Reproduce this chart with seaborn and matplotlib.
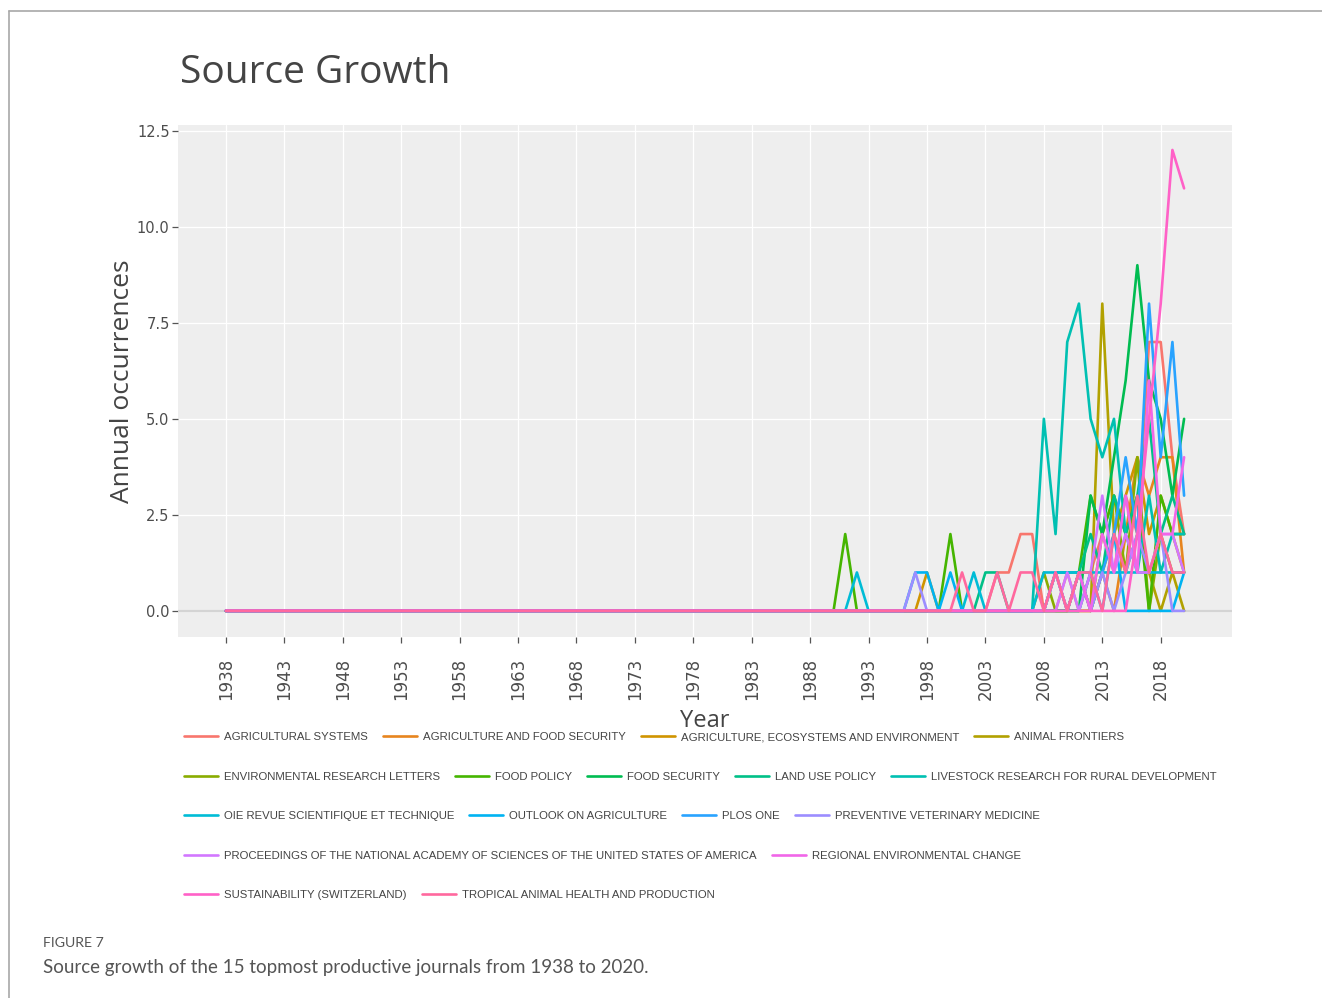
import numpy as np
import pandas as pd
import matplotlib
matplotlib.use("Agg")
import matplotlib.pyplot as plt
from matplotlib.lines import Line2D
import seaborn as sns

# ---------------------------------------------------------------- data
FIRST_YEAR, LAST_YEAR = 1938, 2020
ACTIVE_FROM = 1988          # no journal has any document before this year

JOURNALS = [
    "AGRICULTURAL SYSTEMS",
    "AGRICULTURE AND FOOD SECURITY",
    "AGRICULTURE, ECOSYSTEMS AND ENVIRONMENT",
    "ANIMAL FRONTIERS",
    "ENVIRONMENTAL RESEARCH LETTERS",
    "FOOD POLICY",
    "FOOD SECURITY",
    "LAND USE POLICY",
    "LIVESTOCK RESEARCH FOR RURAL DEVELOPMENT",
    "OIE REVUE SCIENTIFIQUE ET TECHNIQUE",
    "OUTLOOK ON AGRICULTURE",
    "PLOS ONE",
    "PREVENTIVE VETERINARY MEDICINE",
    "PROCEEDINGS OF THE NATIONAL ACADEMY OF SCIENCES OF THE UNITED STATES OF AMERICA",
    "REGIONAL ENVIRONMENTAL CHANGE",
    "SUSTAINABILITY (SWITZERLAND)",
    "TROPICAL ANIMAL HEALTH AND PRODUCTION",
]

# annual documents, 1988-2020 (rows: 1988-1997 | 1998-2007 | 2008-2020)
agricultural_systems = [0, 0, 0, 0, 0, 0, 0, 0, 0, 0,
                        0, 0, 0, 0, 0, 0, 1, 1, 2, 2,
                        0, 0, 1, 0, 1, 2, 1, 3, 2, 7, 7, 4, 2]
agriculture_food_security = [0, 0, 0, 0, 0, 0, 0, 0, 0, 0,
                             0, 0, 0, 0, 0, 0, 0, 0, 0, 0,
                             0, 0, 0, 0, 0, 1, 0, 2, 4, 3, 4, 4, 1]
agriculture_ecosystems_env = [0, 0, 0, 0, 0, 0, 0, 0, 0, 0,
                              1, 0, 0, 0, 0, 0, 0, 0, 0, 0,
                              0, 0, 0, 1, 0, 1, 2, 3, 4, 2, 3, 2, 1]
animal_frontiers = [0, 0, 0, 0, 0, 0, 0, 0, 0, 0,
                    0, 0, 0, 0, 0, 0, 0, 0, 0, 0,
                    0, 0, 0, 0, 0, 8, 2, 1, 2, 1, 0, 1, 0]
environmental_research_letters = [0, 0, 0, 0, 0, 0, 0, 0, 0, 0,
                                  0, 0, 0, 0, 0, 0, 0, 0, 0, 0,
                                  1, 0, 0, 1, 0, 2, 3, 1, 4, 0, 2, 1, 1]
food_policy = [0, 0, 0, 2, 0, 0, 0, 0, 0, 0,
               0, 0, 2, 0, 0, 0, 0, 0, 0, 0,
               0, 1, 0, 1, 3, 2, 3, 2, 3, 0, 3, 2, 2]
food_security = [0, 0, 0, 0, 0, 0, 0, 0, 0, 0,
                 0, 0, 0, 0, 0, 0, 0, 0, 0, 0,
                 0, 0, 0, 0, 3, 2, 4, 6, 9, 6, 5, 3, 5]
land_use_policy = [0, 0, 0, 0, 0, 0, 0, 0, 0, 0,
                   0, 0, 0, 0, 0, 1, 1, 0, 0, 0,
                   0, 1, 1, 1, 2, 1, 3, 2, 3, 5, 2, 3, 2]
livestock_research = [0, 0, 0, 0, 0, 0, 0, 0, 0, 0,
                      0, 0, 0, 0, 0, 0, 0, 0, 0, 0,
                      5, 2, 7, 8, 5, 4, 5, 2, 1, 3, 1, 2, 2]
oie_revue = [0, 0, 0, 0, 1, 0, 0, 0, 0, 0,
             0, 0, 0, 0, 1, 0, 0, 0, 0, 0,
             1, 1, 1, 1, 1, 1, 1, 1, 1, 1, 1, 1, 1]
outlook_on_agriculture = [0, 0, 0, 0, 0, 0, 0, 0, 0, 1,
                          1, 0, 1, 0, 0, 0, 0, 0, 0, 0,
                          0, 1, 0, 0, 1, 0, 2, 0, 0, 0, 0, 0, 1]
plos_one = [0, 0, 0, 0, 0, 0, 0, 0, 0, 0,
            0, 0, 0, 0, 0, 0, 0, 0, 0, 0,
            0, 0, 0, 1, 0, 1, 2, 4, 2, 8, 4, 7, 3]
preventive_vet_medicine = [0, 0, 0, 0, 0, 0, 0, 0, 0, 1,
                           0, 0, 0, 0, 0, 0, 0, 0, 0, 0,
                           0, 1, 0, 1, 0, 1, 0, 1, 2, 1, 2, 0, 0]
pnas = [0, 0, 0, 0, 0, 0, 0, 0, 0, 0,
        0, 0, 0, 0, 0, 0, 0, 0, 0, 0,
        0, 0, 1, 0, 1, 3, 1, 2, 1, 1, 2, 2, 1]
regional_env_change = [0, 0, 0, 0, 0, 0, 0, 0, 0, 0,
                       0, 0, 0, 0, 0, 0, 0, 0, 0, 0,
                       0, 1, 0, 1, 0, 2, 1, 3, 1, 6, 2, 2, 4]
sustainability = [0, 0, 0, 0, 0, 0, 0, 0, 0, 0,
                  0, 0, 0, 0, 0, 0, 0, 0, 0, 0,
                  0, 0, 0, 0, 0, 0, 0, 0, 2, 5, 8, 12, 11]
tropical_animal_health = [0, 0, 0, 0, 0, 0, 0, 0, 0, 0,
                          0, 0, 0, 1, 0, 0, 1, 0, 1, 1,
                          0, 1, 0, 1, 1, 0, 2, 1, 3, 1, 2, 1, 1]

SERIES = [agricultural_systems, agriculture_food_security, agriculture_ecosystems_env,
          animal_frontiers, environmental_research_letters, food_policy, food_security,
          land_use_policy, livestock_research, oie_revue, outlook_on_agriculture, plos_one,
          preventive_vet_medicine, pnas, regional_env_change, sustainability,
          tropical_animal_health]

YEAR_TICKS = list(range(FIRST_YEAR, 2019, 5))
Y_TICKS = [0.0, 2.5, 5.0, 7.5, 10.0, 12.5]

# ---------------------------------------------------------------- long table
years = np.arange(FIRST_YEAR, LAST_YEAR + 1)
n_quiet = ACTIVE_FROM - FIRST_YEAR
frames = []
for name, vals in zip(JOURNALS, SERIES):
    counts = np.concatenate([np.zeros(n_quiet), np.asarray(vals, dtype=float)])
    frames.append(pd.DataFrame({"Year": years, "Occurrences": counts, "Source": name}))
df = pd.concat(frames, ignore_index=True)


# ---------------------------------------------------------------- ggplot-style hue palette
def hue_palette(n, c=100.0, l=65.0, h0=15.0):
    hues = np.linspace(h0, h0 + 360.0, n + 1)[:-1]
    xn, yn, zn = 95.047, 100.0, 108.883
    un = 4 * xn / (xn + 15 * yn + 3 * zn)
    vn = 9 * yn / (xn + 15 * yn + 3 * zn)
    m = np.array([[3.240479, -1.537150, -0.498535],
                  [-0.969256, 1.875992, 0.041556],
                  [0.055648, -0.204043, 1.057311]])
    cols = []
    for h in hues:
        hr = np.deg2rad(h)
        u, v = c * np.cos(hr), c * np.sin(hr)
        Y = yn * ((l + 16) / 116) ** 3
        up = u / (13 * l) + un
        vp = v / (13 * l) + vn
        X = 9 * Y * up / (4 * vp)
        Z = Y * (12 - 3 * up - 20 * vp) / (4 * vp)
        lin = m @ (np.array([X, Y, Z]) / 100.0)
        lin = np.clip(lin, 0, None)
        rgb = np.where(lin <= 0.0031308, 12.92 * lin, 1.055 * lin ** (1 / 2.4) - 0.055)
        cols.append(tuple(np.clip(rgb, 0, 1)))
    return cols


palette = hue_palette(len(JOURNALS))

# ---------------------------------------------------------------- figure
sns.set_theme(style="darkgrid", rc={
    "axes.facecolor": "#EEEEEE",
    "grid.color": "white",
    "grid.linewidth": 0.9,
})
plt.rcParams["font.family"] = ["DejaVu Sans"]

W, H = 1322, 998
fig = plt.figure(figsize=(W / 100, H / 100), dpi=100)
fig.patch.set_facecolor("white")

L, R, T, B = 178, 1232, 125, 637
ax = fig.add_axes([L / W, 1 - B / H, (R - L) / W, (B - T) / H])

ax.axhline(0, color="#d4d4d4", lw=1.6, zorder=1.2)

sns.lineplot(data=df, x="Year", y="Occurrences", hue="Source", hue_order=JOURNALS,
             palette=palette, linewidth=1.9, estimator=None, legend=False, ax=ax,
             zorder=2)

ax.set_xlim(1933.9, 2024.1)
ax.set_ylim(-0.68, 12.65)
for s in ax.spines.values():
    s.set_visible(False)

ax.set_xticks(YEAR_TICKS)
ax.set_xticklabels([str(y) for y in YEAR_TICKS], rotation=90)
ax.set_yticks(Y_TICKS)
ax.set_yticklabels([f"{v:.1f}" for v in Y_TICKS])
ax.tick_params(axis="x", length=4, width=0.9, color="#555555", pad=11,
               labelsize=12, labelcolor="#4d4d4d", bottom=True)
ax.tick_params(axis="y", length=4, width=0.9, color="#555555", pad=2,
               labelsize=10.5, labelcolor="#4d4d4d", left=True)

ax.set_xlabel("Year", fontsize=17, color="#444444", family="Open Sans")
ax.xaxis.set_label_coords(0.5, (B - 721) / (B - T))
ax.xaxis.label.set_va("center")
ax.set_ylabel("Annual occurrences", fontsize=19, color="#444444", family="Open Sans")
ax.yaxis.set_label_coords((122 - L) / (R - L), 0.5)
ax.yaxis.label.set_va("center")

fig.text(180 / W, 1 - 83 / H, "Source Growth", fontsize=28, family="Open Sans",
         color="#444444", va="baseline", ha="left")

# ---------------------------------------------------------------- legend, wrapped in rows
series_lines = ax.get_lines()[1:]
rows = [[0, 1, 2, 3], [4, 5, 6, 7, 8], [9, 10, 11, 12], [13, 14], [15, 16]]
row_y = [737, 777, 816, 856, 895]
leg_size = 8.2
leg_px = leg_size * 100 / 72
for idx, yy in zip(rows, row_y):
    handles = [Line2D([], [], color=series_lines[i].get_color(), lw=1.9) for i in idx]
    fig.legend(handles, [JOURNALS[i] for i in idx], loc="center left",
               bbox_to_anchor=(184 / W, 1 - yy / H), ncol=len(idx),
               frameon=False, borderpad=0, borderaxespad=0,
               handlelength=34 / leg_px, handletextpad=6 / leg_px,
               columnspacing=15 / leg_px,
               prop={"family": "Liberation Sans", "size": leg_size},
               labelcolor="#444444")

# ---------------------------------------------------------------- caption and frame
fig.text(43 / W, 1 - 943 / H, "FIGURE 7", fontsize=10.2, family="Lato",
         color="#555555", va="center", ha="left")
fig.text(43 / W, 1 - 967 / H,
         "Source growth of the 15 topmost productive journals from 1938 to 2020.",
         fontsize=13.5, family="Lato", color="#555555", va="center", ha="left")

fig.add_artist(Line2D([9 / W, 9 / W], [0, 1 - 11 / H], transform=fig.transFigure,
                      color="#a8a8a8", lw=1.2))
fig.add_artist(Line2D([9 / W, 1], [1 - 11 / H, 1 - 11 / H], transform=fig.transFigure,
                      color="#a8a8a8", lw=1.2))

fig.savefig("out.png", dpi=100)
